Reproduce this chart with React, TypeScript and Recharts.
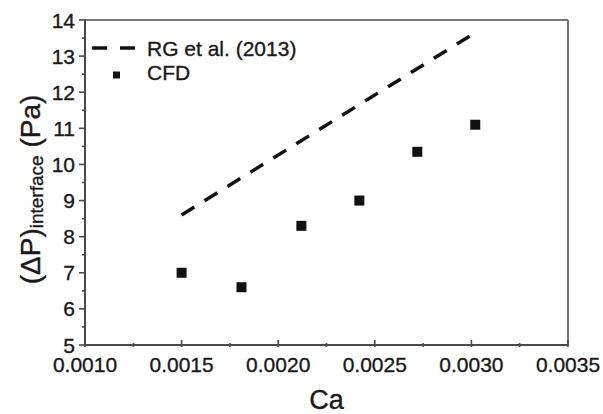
import React from 'react';
import { ScatterChart, Scatter, XAxis, YAxis, ReferenceLine, Legend, Label } from 'recharts';

const caCFD = [0.0015, 0.00181, 0.00212, 0.00242, 0.00272, 0.00302];
const dpCFD = [7.0, 6.6, 8.3, 9.0, 10.35, 11.1];
const caRG = [0.0015, 0.00302];
const dpRG = [8.6, 13.65];
const xMajorTicks = [0.001, 0.0015, 0.002, 0.0025, 0.003, 0.0035];
const xMinorTicks = [0.00125, 0.00175, 0.00225, 0.00275, 0.00325];
const yMajorTicks = [5, 6, 7, 8, 9, 10, 11, 12, 13, 14];
const yMinorTicks = [5.5, 6.5, 7.5, 8.5, 9.5, 10.5, 11.5, 12.5, 13.5];
const legendLabels = ['RG et al. (2013)', 'CFD'];

const FONT = '"Liberation Sans", Arial, sans-serif';
const TEXT = '#1a1a1a';
const AXIS = '#4a4a4a';
const TICK_SIZE = 4;
const X_MARGIN = 8;
const Y_MARGIN = 6;
const HEAVY = { stroke: TEXT, strokeWidth: 0.35 };

const cfdData = caCFD.map((ca, i) => ({ ca, dp: dpCFD[i] }));
const rgData = caRG.map((ca, i) => ({ ca, dp: dpRG[i] }));
const xTicks = [...xMajorTicks, ...xMinorTicks].sort((a, b) => a - b);
const yTicks = [...yMajorTicks, ...yMinorTicks].sort((a, b) => a - b);

const isMajor = (v: number, list: number[]) => list.some((m) => Math.abs(m - v) < 1e-9);

const XTick = (props: any) => {
  const { x, y, payload } = props;
  const v = payload.value as number;
  const major = isMajor(v, xMajorTicks);
  const axisY = y - TICK_SIZE - X_MARGIN;
  return (
    <g>
      <line x1={x} x2={x} y1={axisY - (major ? 5 : 2)} y2={axisY + 2} stroke={AXIS} strokeWidth={1.6} />
      {major && (
        <text x={x} y={y} dy="0.71em" textAnchor="middle" fontFamily={FONT} fontSize={21} fill={TEXT} {...HEAVY}>
          {v.toFixed(4)}
        </text>
      )}
    </g>
  );
};

const YTick = (props: any) => {
  const { x, y, payload } = props;
  const v = payload.value as number;
  const major = isMajor(v, yMajorTicks);
  const axisX = x + TICK_SIZE + Y_MARGIN;
  return (
    <g>
      <line x1={axisX - (major ? 6 : 3)} x2={axisX + 1} y1={y} y2={y} stroke={AXIS} strokeWidth={1.6} />
      {major && (
        <text x={x} y={y} dy="0.36em" textAnchor="end" fontFamily={FONT} fontSize={21} fill={TEXT} {...HEAVY}>
          {String(v)}
        </text>
      )}
    </g>
  );
};

const YLabel = (props: any) => {
  const vb = props.viewBox || { x: 0, y: 20, width: 85, height: 325 };
  const cx = vb.x + 40;
  const cy = vb.y + vb.height / 2 + 7;
  return (
    <text
      x={cx}
      y={cy}
      transform={`rotate(-90, ${cx}, ${cy})`}
      textAnchor="middle"
      fontFamily={FONT}
      fontSize={28}
      fill={TEXT}
      {...HEAVY}
    >
      <tspan>(ΔP)</tspan>
      <tspan fontSize={19} dy={3}>interface</tspan>
      <tspan dy={-3}> (Pa)</tspan>
    </text>
  );
};

const XLabel = (props: any) => {
  const vb = props.viewBox || { x: 85, y: 345, width: 483, height: 69 };
  return (
    <text x={vb.x + vb.width / 2} y={vb.y + 64} textAnchor="middle" fontFamily={FONT} fontSize={27} fill={TEXT} {...HEAVY}>
      Ca
    </text>
  );
};

const LegendBox = () => (
  <svg width={240} height={52} style={{ display: 'block' }}>
    <line x1={4} x2={50} y1={14} y2={14} stroke="#111" strokeWidth={3.5} strokeDasharray="15 13" />
    <text x={59} y={22} fontFamily={FONT} fontSize={21} fill={TEXT} {...HEAVY}>
      {legendLabels[0]}
    </text>
    <rect x={25} y={37.5} width={7} height={7} fill="#111" />
    <text x={59} y={46} fontFamily={FONT} fontSize={21} fill={TEXT} {...HEAVY}>
      {legendLabels[1]}
    </text>
  </svg>
);

export default function App() {
  return (
    <div style={{ position: 'absolute', left: 0, top: 0, background: '#fff' }}>
      <ScatterChart width={603} height={414} margin={{ top: 20, right: 35, left: 0, bottom: 0 }}>
        <XAxis
          type="number"
          dataKey="ca"
          domain={[0.001, 0.0035]}
          ticks={xTicks}
          interval={0}
          tick={<XTick />}
          tickLine={false}
          tickSize={TICK_SIZE}
          tickMargin={X_MARGIN}
          axisLine={{ stroke: AXIS, strokeWidth: 2 }}
          height={69}
          allowDataOverflow
        >
          <Label content={<XLabel />} />
        </XAxis>
        <YAxis
          type="number"
          dataKey="dp"
          domain={[5, 14]}
          ticks={yTicks}
          interval={0}
          tick={<YTick />}
          tickLine={false}
          tickSize={TICK_SIZE}
          tickMargin={Y_MARGIN}
          axisLine={{ stroke: AXIS, strokeWidth: 2 }}
          width={85}
          allowDataOverflow
        >
          <Label content={<YLabel />} />
        </YAxis>
        <ReferenceLine y={14} stroke="#777" strokeWidth={2} />
        <ReferenceLine x={0.0035} stroke="#777" strokeWidth={2} />
        <Scatter
          name={legendLabels[0]}
          data={rgData}
          line={{ stroke: '#111', strokeWidth: 3.5, strokeDasharray: '15 12' }}
          shape={() => <g />}
          isAnimationActive={false}
        />
        <Scatter
          name={legendLabels[1]}
          data={cfdData}
          shape={(p: any) => <rect x={p.cx - 5} y={p.cy - 5} width={10} height={10} fill="#111" />}
          isAnimationActive={false}
        />
        <Legend
          layout="vertical"
          align="center"
          verticalAlign="middle"
          wrapperStyle={{ left: 88, top: 34, width: 240, height: 52 }}
          content={() => <LegendBox />}
        />
      </ScatterChart>
    </div>
  );
}
